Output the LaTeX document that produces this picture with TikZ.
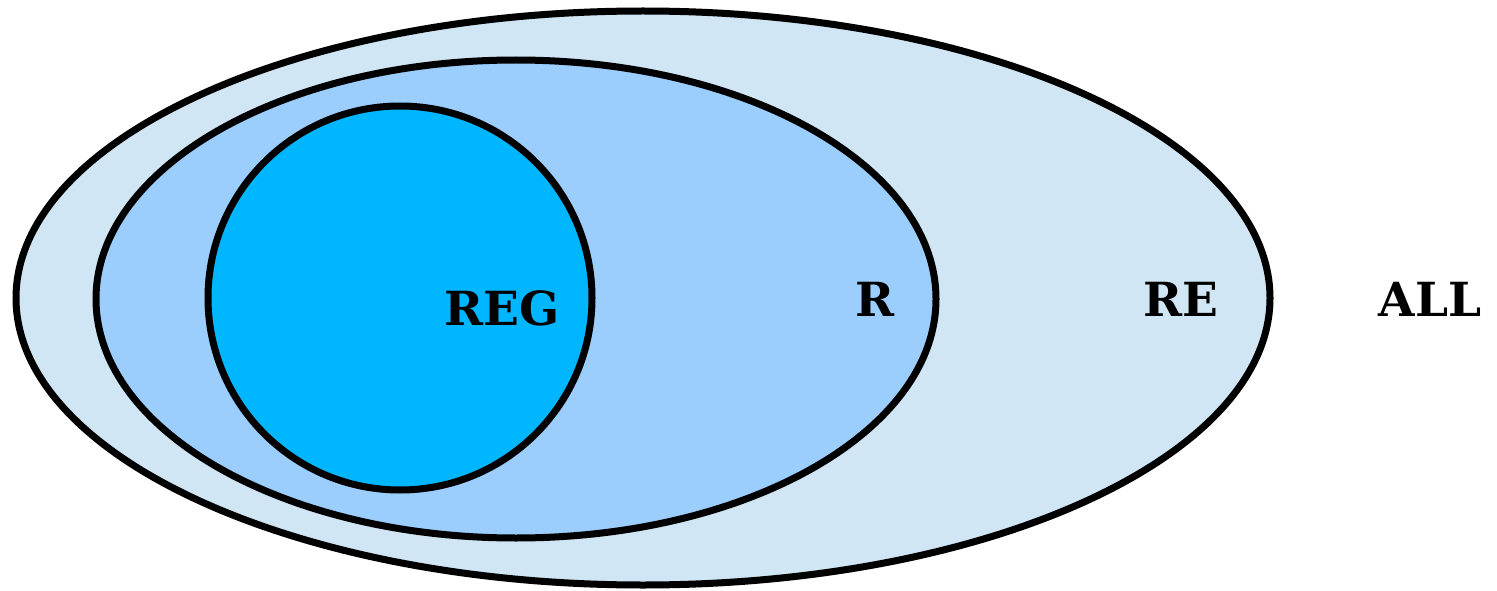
\documentclass[tikz,border=0pt]{standalone}
\usepackage{fontspec}
\setmainfont{DejaVu Serif}
\definecolor{setall}{HTML}{D0E6F4}
\definecolor{setr}{HTML}{9BCDFD}
\definecolor{setreg}{HTML}{00B6FF}
\begin{document}
\begin{tikzpicture}[x=1pt,y=-1pt,
  setline/.style={draw=black,line width=7pt},
  lbl/.style={font=\bfseries\fontsize{47}{52}\selectfont,inner sep=0pt,anchor=base}]
\useasboundingbox (0,0) rectangle (1497,591);
% nested sets
\draw[setline,fill=setall] (643,298) ellipse [x radius=627, y radius=287];
\draw[setline,fill=setr] (516,299) ellipse [x radius=420, y radius=239];
\draw[setline,fill=setreg] (400,298) circle [radius=192];
% labels
\node[lbl] (reg) at (502,325) {REG};
\node[lbl] (r) at (875,316) {R};
\node[lbl] (re) at (1181,316) {RE};
\node[lbl] (all) at (1430,316) {ALL};
\end{tikzpicture}
\end{document}
